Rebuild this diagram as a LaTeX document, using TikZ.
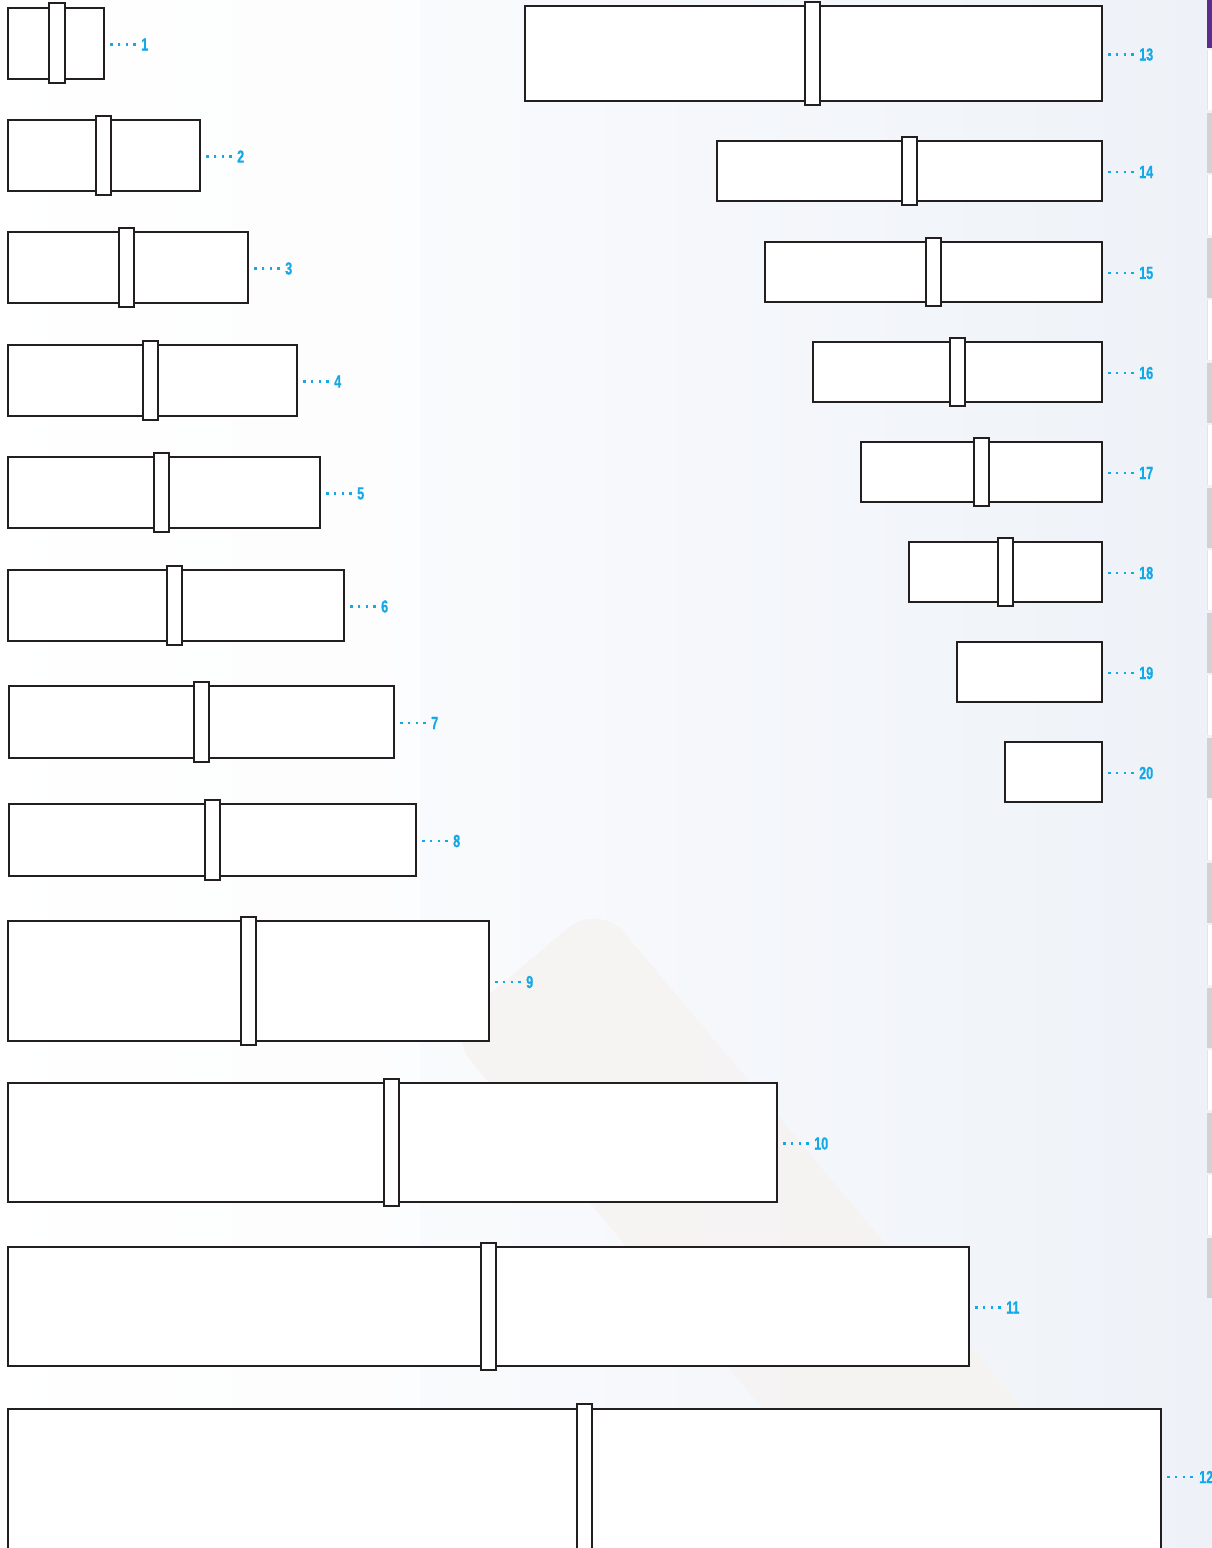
\documentclass[tikz,border=0pt]{standalone}
\usepackage{fontspec}
\newfontfamily\lblfont{Liberation Sans Bold}[FakeStretch=0.72,FakeBold=0.6]
\usetikzlibrary{fit,calc}
\definecolor{linec}{HTML}{231F20}
\definecolor{cyanc}{HTML}{12A9E6}
\definecolor{bgblue}{RGB}{238,242,248}
\definecolor{purplec}{HTML}{5B2D8E}
\definecolor{tabgray}{RGB}{210,210,212}
\definecolor{bottlec}{RGB}{246,243,241}
\tikzset{
  obox/.style={draw=linec, line width=2.4pt, fill=white, inner sep=0pt, outer sep=0pt},
  dbox/.style={draw=linec, line width=2.4pt, fill=white, inner sep=0pt, outer sep=0pt},
  lbl/.style={text=cyanc, font=\lblfont\fontsize{17.5}{18}\selectfont, inner sep=0pt, anchor=west},
  leader/.style={draw=cyanc, line width=2.5pt, dash pattern=on 2.5pt off 5.3pt},
}
\newcommand\labelfor[2]{% name, vertical shift
  \node[lbl] (l#1) at ([xshift=37pt,yshift=#2]b#1.east) {#1};
  \draw[leader] ([xshift=6pt,yshift=#2]b#1.east) -- ([xshift=-5pt]l#1.west);
}
\newcommand\onebox[5]{%
  \node[obox, fit={(#2,#3) (#4,#5)}] (b#1) {};
  \labelfor{#1}{-1pt}
}
\newcommand\twobox[9]{%
  \onebox{#1}{#2}{#3}{#4}{#5}
  \node[dbox, fit={(#6,#7) (#8,#9)}] (d#1) {};
}
\begin{document}
\begin{tikzpicture}[x=1pt,y=-1pt]
\useasboundingbox (0,0) rectangle (1212,1548);
\clip (0,0) rectangle (1212,1548);
% background
\shade[left color=white, right color=bgblue] (0,0) rectangle (1212,1548);
\fill[white, opacity=0.6] (0,0) rectangle (420,1548);
\fill[bottlec, opacity=0.8, rotate around={40:(760,1250)}, rounded corners=40pt] (660,880) rectangle (860,1700);
% side tabs
\fill[purplec] (1207,0) rectangle (1212,48);
\foreach \i in {0,...,19}{
  \pgfmathsetmacro\ya{50+62.5*\i}
  \pgfmathsetmacro\yb{\ya+60}
  \pgfmathtruncatemacro\tabpar{mod(\i,2)}
  \ifnum\tabpar=0
    \fill[white] (1207,\ya) rectangle (1212,\yb);
    \draw[tabgray!60, line width=0.8pt] (1207.5,\ya) -- (1207.5,\yb);
  \else
    \fill[tabgray] (1207,\ya) rectangle (1212,\yb);
  \fi
}
% left column
\twobox{1}{8}{8}{104}{79}{49}{3}{65}{83}
\twobox{2}{8}{120}{200}{191}{96}{116}{111}{195}
\twobox{3}{8}{232}{248}{303}{119}{228}{134}{307}
\twobox{4}{8}{345}{297}{416}{143}{341}{158}{420}
\twobox{5}{8}{457}{320}{528}{154}{453}{169}{532}
\twobox{6}{8}{570}{344}{641}{167}{566}{182}{645}
\twobox{7}{9}{686}{394}{758}{194}{682}{209}{762}
\twobox{8}{9}{804}{416}{876}{205}{800}{220}{880}
\twobox{9}{8}{921}{489}{1041}{241}{917}{256}{1045}
\twobox{10}{8}{1083}{777}{1202}{384}{1079}{399}{1206}
\twobox{11}{8}{1247}{969}{1366}{481}{1243}{496}{1370}
% box 12 runs past the bottom edge
\node[obox, fit={(8,1409) (1161,1560)}] (b12) {};
\node[dbox, fit={(577,1404) (592,1560)}] (d12) {};
\node[lbl] (l12) at (1199,1477) {12};
\draw[leader] (b12.east |- l12.west) ++(6,0) -- ([xshift=-5pt]l12.west);
% right column
\twobox{13}{525}{6}{1102}{101}{805}{2}{820}{105}
\twobox{14}{717}{141}{1102}{201}{902}{137}{917}{205}
\twobox{15}{765}{242}{1102}{302}{926}{238}{941}{306}
\twobox{16}{813}{342}{1102}{402}{950}{338}{965}{406}
\twobox{17}{861}{442}{1102}{502}{974}{438}{989}{506}
\twobox{18}{909}{542}{1102}{602}{998}{538}{1013}{606}
\onebox{19}{957}{642}{1102}{702}
\onebox{20}{1005}{742}{1102}{802}
\end{tikzpicture}
\end{document}
